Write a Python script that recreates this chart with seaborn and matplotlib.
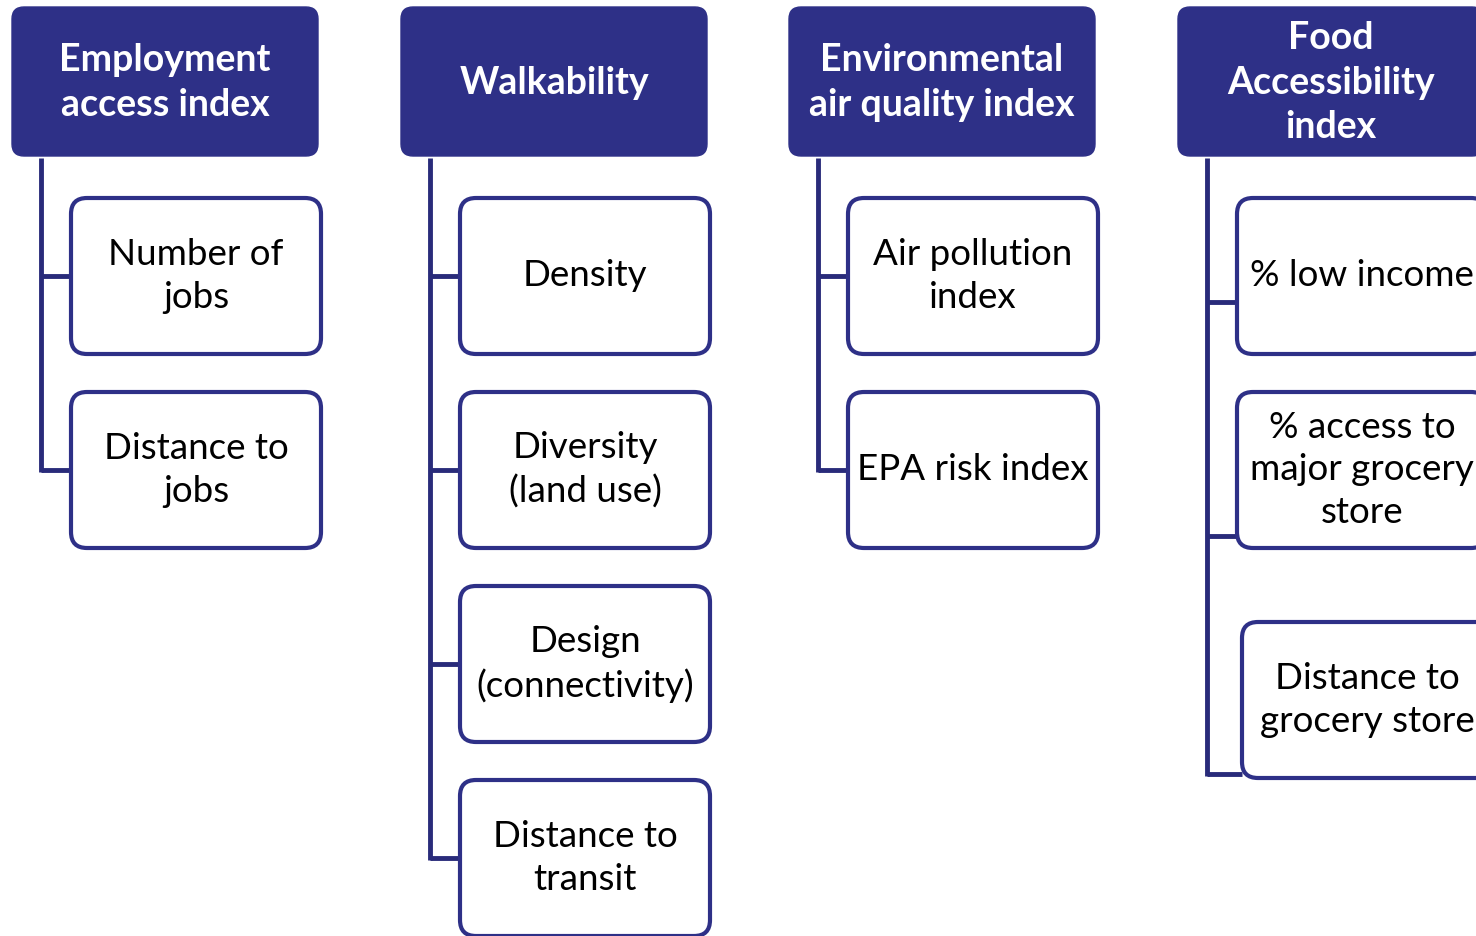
import matplotlib
matplotlib.use('Agg')
import matplotlib.pyplot as plt
from matplotlib.patches import FancyBboxPatch
import seaborn as sns

# Textos del diagrama: cabeceras y sub-indicadores de cada columna
cabeceras = [
    'Employment\naccess index',
    'Walkability',
    'Environmental\nair quality index',
    'Food\nAccessibility\nindex',
]
hijos_empleo = ['Number of\njobs', 'Distance to\njobs']
hijos_walk = ['Density', 'Diversity\n(land use)', 'Design\n(connectivity)', 'Distance to\ntransit']
hijos_aire = ['Air pollution\nindex', 'EPA risk index']
hijos_comida = ['% low income', '% access to\nmajor grocery\nstore', 'Distance to\ngrocery store']
hijos = [hijos_empleo, hijos_walk, hijos_aire, hijos_comida]

# Estilo
azul = '#2E3087'
azul_linea = '#292B7A'
sns.set_theme(style='white')
plt.rcParams['font.family'] = ['Lato', 'DejaVu Sans']

W, H = 1476, 936
fig = plt.figure(figsize=(W / 100, H / 100), dpi=100)
ax = fig.add_axes([0, 0, 1, 1])
ax.set_xlim(0, W)
ax.set_ylim(H, 0)
ax.set_aspect('equal')
ax.axis('off')

# Layout (píxeles)
x_cab = [12, 401, 789, 1178]
ancho_cab, y_cab, alto_cab = 306, 7, 149
desp_hijo, ancho_hijo, alto_hijo = 59, 250, 156
y_hijos = [198, 392, 586, 780]
# la última columna tiene el tercer recuadro algo desplazado
ajuste_comida = {2: (5, 622)}

for i, (cab, sub) in enumerate(zip(cabeceras, hijos)):
    x0 = x_cab[i]
    ax.add_patch(FancyBboxPatch((x0, y_cab), ancho_cab, alto_cab,
                                boxstyle='round,pad=0,rounding_size=12',
                                facecolor=azul, edgecolor=azul, lw=1, zorder=2))
    ax.text(x0 + ancho_cab / 2, y_cab + alto_cab / 2 + 1, cab, color='white',
            fontsize=27, fontweight='bold', ha='center', va='center',
            linespacing=1.38, zorder=3)

    x_linea = x0 + 29
    y_conex = []
    for j, texto in enumerate(sub):
        hx = x0 + desp_hijo
        hy = y_hijos[j]
        if i == 3 and j in ajuste_comida:
            dx, hy = ajuste_comida[j]
            hx += dx
        ax.add_patch(FancyBboxPatch((hx, hy), ancho_hijo, alto_hijo,
                                    boxstyle='round,pad=0,rounding_size=16',
                                    facecolor='white', edgecolor=azul, lw=3, zorder=2))
        ax.text(hx + ancho_hijo / 2, hy + alto_hijo / 2, texto, color='black',
                fontsize=26.5, ha='center', va='center', linespacing=1.36, zorder=3)
        if i == 3:
            # conectores de la columna de comida caen más abajo
            yc = [302, 536, 774][j]
        else:
            yc = hy + alto_hijo / 2
        y_conex.append(yc)
        ax.plot([x_linea, hx], [yc, yc], color=azul_linea, lw=3.5,
                solid_capstyle='butt', zorder=1)

    ax.plot([x_linea, x_linea], [y_cab + alto_cab + 2, y_conex[-1] + 2],
            color=azul_linea, lw=3.5, solid_capstyle='butt', zorder=1)

fig.savefig('out.png', dpi=100, facecolor='white')
